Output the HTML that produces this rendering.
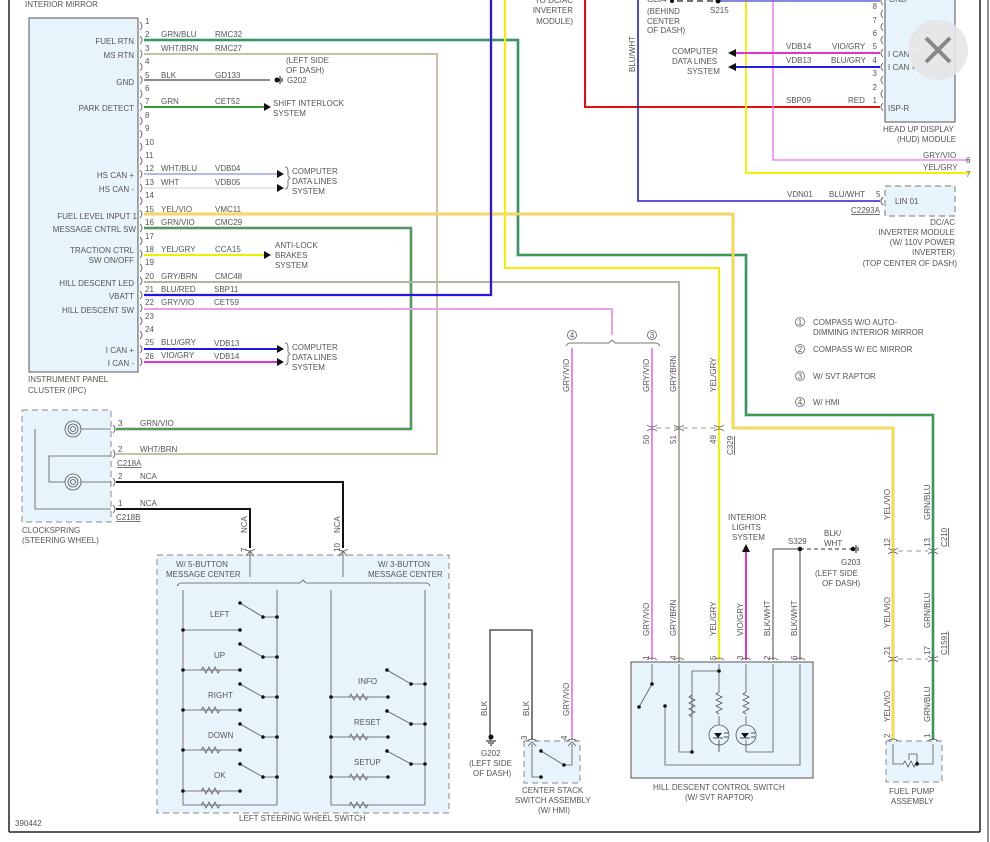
<!DOCTYPE html>
<html><head><meta charset="utf-8"><style>
html,body{margin:0;padding:0;background:#fff;}
svg{display:block;}
text{font-family:"Liberation Sans",sans-serif;font-size:8px;fill:#555;}
</style></head><body>
<svg width="990" height="842" viewBox="0 0 990 842" xmlns="http://www.w3.org/2000/svg">
<line x1="9" y1="0" x2="9" y2="832" stroke="#222" stroke-width="1.5"/>
<line x1="9" y1="832" x2="980" y2="832" stroke="#222" stroke-width="1.5"/>
<line x1="980" y1="0" x2="980" y2="832" stroke="#222" stroke-width="1.5"/>
<line x1="988" y1="0" x2="988" y2="842" stroke="#222" stroke-width="1"/>
<text x="25" y="7">INTERIOR MIRROR</text>
<text x="15" y="826">390442</text>

<rect x="29" y="18" width="109" height="354" fill="#e8f4fc" stroke="#555" stroke-width="1"/>
<text x="28" y="382">INSTRUMENT PANEL</text>
<text x="28" y="393">CLUSTER (IPC)</text>
<g text-anchor="end">
<text x="134" y="44">FUEL RTN</text>
<text x="134" y="58">MS RTN</text>
<text x="134" y="85">GND</text>
<text x="134" y="111">PARK DETECT</text>
<text x="134" y="178">HS CAN +</text>
<text x="134" y="192">HS CAN -</text>
<text x="137" y="219">FUEL LEVEL INPUT 1</text>
<text x="136" y="232">MESSAGE CNTRL SW</text>
<text x="134" y="253">TRACTION CTRL</text>
<text x="134" y="263">SW ON/OFF</text>
<text x="134" y="286">HILL DESCENT LED</text>
<text x="134" y="299">VBATT</text>
<text x="134" y="313">HILL DESCENT SW</text>
<text x="134" y="353">I CAN +</text>
<text x="134" y="366">I CAN -</text>
</g>
<g font-size="7.5">
<text x="145" y="24">1</text><text x="145" y="37">2</text><text x="145" y="51">3</text><text x="145" y="64">4</text><text x="145" y="78">5</text><text x="145" y="91">6</text><text x="145" y="104">7</text><text x="145" y="118">8</text><text x="145" y="131">9</text><text x="145" y="145">10</text><text x="145" y="158">11</text><text x="145" y="171">12</text><text x="145" y="185">13</text><text x="145" y="198">14</text><text x="145" y="212">15</text><text x="145" y="225">16</text><text x="145" y="239">17</text><text x="145" y="252">18</text><text x="145" y="265">19</text><text x="145" y="279">20</text><text x="145" y="292">21</text><text x="145" y="305">22</text><text x="145" y="319">23</text><text x="145" y="332">24</text><text x="145" y="345">25</text><text x="145" y="359">26</text>
</g>
<g fill="none" stroke="#555" stroke-width="0.8">
<path d="M140,22q4,4 0,8M140,36q4,4 0,8M140,50q4,4 0,8M140,63q4,4 0,8M140,76q4,4 0,8M140,90q4,4 0,8M140,103q4,4 0,8M140,117q4,4 0,8M140,130q4,4 0,8M140,143q4,4 0,8M140,157q4,4 0,8M140,170q4,4 0,8M140,184q4,4 0,8M140,197q4,4 0,8M140,210q4,4 0,8M140,224q4,4 0,8M140,237q4,4 0,8M140,250q4,4 0,8M140,264q4,4 0,8M140,277q4,4 0,8M140,291q4,4 0,8M140,304q4,4 0,8M140,317q4,4 0,8M140,331q4,4 0,8M140,345q4,4 0,8M140,358q4,4 0,8"/>
</g>
<text x="161" y="37">GRN/BLU</text><text x="215" y="37">RMC32</text>
<text x="161" y="51">WHT/BRN</text><text x="215" y="51">RMC27</text>
<text x="161" y="78">BLK</text><text x="215" y="78">GD133</text>
<text x="161" y="104">GRN</text><text x="215" y="104">CET52</text>
<text x="161" y="171">WHT/BLU</text><text x="215" y="171">VDB04</text>
<text x="161" y="185">WHT</text><text x="215" y="185">VDB05</text>
<text x="161" y="212">YEL/VIO</text><text x="215" y="212">VMC11</text>
<text x="161" y="225">GRN/VIO</text><text x="215" y="225">CMC29</text>
<text x="161" y="252">YEL/GRY</text><text x="215" y="252">CCA15</text>
<text x="161" y="279">GRY/BRN</text><text x="215" y="279">CMC48</text>
<text x="161" y="292">BLU/RED</text><text x="214" y="292">SBP11</text>
<text x="161" y="305">GRY/VIO</text><text x="214" y="305">CET59</text>
<text x="161" y="345">BLU/GRY</text><text x="214" y="346">VDB13</text>
<text x="161" y="358">VIO/GRY</text><text x="214" y="359">VDB14</text>

<text x="286" y="63">(LEFT SIDE</text><text x="286" y="73">OF DASH)</text><text x="287" y="83">G202</text>
<text x="273" y="106">SHIFT INTERLOCK</text><text x="273" y="116">SYSTEM</text>
<text x="292" y="174">COMPUTER</text><text x="292" y="184">DATA LINES</text><text x="292" y="194">SYSTEM</text>
<text x="275" y="248">ANTI-LOCK</text><text x="275" y="258">BRAKES</text><text x="275" y="268">SYSTEM</text>
<text x="292" y="350">COMPUTER</text><text x="292" y="360">DATA LINES</text><text x="292" y="370">SYSTEM</text>
<path d="M285,167q3,0 3,4v5l2,2l-2,2v5q0,4-3,4M285,343q3,0 3,4v5l2,2l-2,2v5q0,4-3,4" fill="none" stroke="#555" stroke-width="0.8"/>

<line x1="144" y1="80" x2="270" y2="80" stroke="#666" stroke-width="1.5"/>
<circle cx="277" cy="80" r="2.5" fill="#111"/><path d="M280,76v8M282,78v4" stroke="#111"/>
<line x1="144" y1="107" x2="264" y2="107" stroke="#30a030" stroke-width="2"/><path d="M264,103l7,4l-7,4z" fill="#111"/>
<line x1="144" y1="174" x2="277" y2="174" stroke="#b8b8ee" stroke-width="2"/><path d="M277,170l7,4l-7,4z" fill="#111"/>
<line x1="144" y1="188" x2="277" y2="188" stroke="#ddd" stroke-width="1.5"/><path d="M277,184l7,4l-7,4z" fill="#111"/>
<line x1="144" y1="255" x2="264" y2="255" stroke="#ee0" stroke-width="2"/><path d="M264,251l7,4l-7,4z" fill="#111"/>
<line x1="144" y1="349" x2="277" y2="349" stroke="#1b1bdd" stroke-width="2"/><path d="M277,345l7,4l-7,4z" fill="#111"/>
<line x1="144" y1="362" x2="277" y2="362" stroke="#e030d8" stroke-width="2"/><path d="M277,358l7,4l-7,4z" fill="#111"/>

<g fill="none" stroke-linejoin="miter">
<path d="M144,40H518V255H746V415H933V740" stroke="#7090e0" stroke-width="2.8"/>
<path d="M144,40H518V255H746V415H933V740" stroke="#30a030" stroke-width="1.8"/>
<path d="M144,54H437V454H116" stroke="#c9c0a8" stroke-width="2"/>
<path d="M144,214H733V428H893V740" stroke="#f0a0e8" stroke-width="2.8"/>
<path d="M144,214H733V428H893V740" stroke="#f4f000" stroke-width="1.8"/>
<path d="M144,228H411V429H116" stroke="#b080d0" stroke-width="2.8"/>
<path d="M144,228H411V429H116" stroke="#38a838" stroke-width="1.8"/>
<path d="M144,282H679V740" stroke="#b8b0a0" stroke-width="2"/>
<path d="M144,295H491V0" stroke="#f06060" stroke-width="2.6"/>
<path d="M144,295H491V0" stroke="#1818e8" stroke-width="1.9"/>
<path d="M144,309H612V335" stroke="#e8a0e8" stroke-width="2"/>
<path d="M572,348V740M652,348V660" stroke="#ee88ee" stroke-width="2"/>
<path d="M505,0V268H719V660" stroke="#f4f000" stroke-width="2"/>
<path d="M585,0V107H880" stroke="#e01010" stroke-width="2"/>
<path d="M638,0V201H880" stroke="#2020d0" stroke-width="1.6"/>
<path d="M746,0V173H970" stroke="#f4f000" stroke-width="2"/>
<path d="M773,0V160H970" stroke="#ee88ee" stroke-width="1.6"/>
<path d="M718,1H880" stroke="#6060d0" stroke-width="1.5"/>
<path d="M677,1H718" stroke="#222" stroke-width="1.2" stroke-dasharray="6,4"/>
<path d="M736,53H880" stroke="#e030d8" stroke-width="2"/>
<path d="M736,67H880" stroke="#2020e0" stroke-width="2"/>
<path d="M116,482H343V548M116,509H250V548" stroke="#111" stroke-width="2"/>
</g>
<path d="M736,49l-8,4l8,4zM736,63l-8,4l8,4z" fill="#111"/>
<circle cx="672" cy="1" r="2" fill="#111"/><circle cx="718" cy="1" r="2.5" fill="#111"/>

<g text-anchor="end"><text x="573" y="3">TO DC/AC</text><text x="573" y="13">INVERTER</text><text x="573" y="24">MODULE)</text></g>
<text x="647" y="2">G204</text>
<text x="647" y="14">(BEHIND</text><text x="647" y="24">CENTER</text><text x="647" y="33">OF DASH)</text>
<text x="710" y="13">S215</text>
<text transform="translate(635,72) rotate(-90)">BLU/WHT</text>
<text x="672" y="54">COMPUTER</text><text x="672" y="64">DATA LINES</text><text x="687" y="74">SYSTEM</text>

<rect x="885" y="-5" width="70" height="127" fill="#e8f4fc" stroke="#555"/>
<text x="889" y="2">GND</text><text x="888" y="57">I CAN -</text><text x="888" y="70">I CAN +</text><text x="888" y="111">ISP-R</text>
<g text-anchor="end" font-size="7.5"><text x="877" y="9">8</text><text x="877" y="23">7</text><text x="877" y="36">6</text><text x="877" y="49">5</text><text x="877" y="63">4</text><text x="877" y="76">3</text><text x="877" y="90">2</text><text x="877" y="103">1</text></g>
<path d="M883,-3q-4,4 0,8M883,10q-4,4 0,8M883,23q-4,4 0,8M883,36q-4,4 0,8M883,49q-4,4 0,8M883,63q-4,4 0,8M883,76q-4,4 0,8M883,90q-4,4 0,8M883,103q-4,4 0,8" fill="none" stroke="#555" stroke-width="0.8"/>
<text x="786" y="49">VDB14</text><text x="832" y="49">VIO/GRY</text>
<text x="786" y="63">VDB13</text><text x="831" y="63">BLU/GRY</text>
<text x="786" y="103">SBP09</text><text x="848" y="103">RED</text>
<text x="883" y="132">HEAD UP DISPLAY</text><text x="897" y="142">(HUD) MODULE</text>
<text x="923" y="158">GRY/VIO</text><text x="966" y="163">6</text>
<text x="923" y="170">YEL/GRY</text><text x="966" y="177">7</text>
<circle cx="938" cy="50" r="30" fill="#e6e6e6" opacity="0.9"/>
<path d="M926,38l24,24M950,38l-24,24" stroke="#888" stroke-width="4"/>

<rect x="885" y="186" width="70" height="30" fill="#e8f4fc" stroke="#777" stroke-dasharray="6,4"/>
<text x="895" y="204">LIN 01</text>
<text x="787" y="197">VDN01</text><text x="829" y="197">BLU/WHT</text><text x="876" y="197">5</text>
<path d="M883,197q-4,4 0,8" fill="none" stroke="#555"/>
<text x="851" y="213" text-decoration="underline">C2293A</text>
<g text-anchor="end"><text x="955" y="225">DC/AC</text><text x="955" y="235">INVERTER MODULE</text><text x="955" y="245">(W/ 110V POWER</text><text x="955" y="255">INVERTER)</text><text x="957" y="266">(TOP CENTER OF DASH)</text></g>

<g fill="none" stroke="#666" stroke-width="0.8"><circle cx="800" cy="322" r="4.5"/><circle cx="800" cy="349" r="4.5"/><circle cx="800" cy="376" r="4.5"/><circle cx="800" cy="402" r="4.5"/></g>
<g font-size="6.5" text-anchor="middle"><text x="800" y="325">1</text><text x="800" y="352">2</text><text x="800" y="379">3</text><text x="800" y="405">4</text></g>
<text x="813" y="325">COMPASS W/O AUTO-</text><text x="813" y="335">DIMMING INTERIOR MIRROR</text>
<text x="813" y="352">COMPASS W/ EC MIRROR</text>
<text x="813" y="379">W/ SVT RAPTOR</text>
<text x="813" y="405">W/ HMI</text>

<path d="M566,346q2,-3 4,-3H609l3,-3l3,3H656q2,0 4,3" fill="none" stroke="#777"/>
<g fill="none" stroke="#666" stroke-width="0.8"><circle cx="572" cy="335" r="4.5"/><circle cx="652" cy="335" r="4.5"/></g>
<g font-size="6.5" text-anchor="middle"><text x="572" y="338">4</text><text x="652" y="338">3</text></g>
<g>
<text transform="translate(569,392) rotate(-90)">GRY/VIO</text>
<text transform="translate(649,392) rotate(-90)">GRY/VIO</text>
<text transform="translate(676,392) rotate(-90)">GRY/BRN</text>
<text transform="translate(716,392) rotate(-90)">YEL/GRY</text>
</g>
<path d="M656,428H716" stroke="#999" stroke-dasharray="5,4"/>
<g fill="none" stroke="#555" stroke-width="0.8"><path d="M647,425q5,4 10,0M647,431q5,-4 10,0M674,425q5,4 10,0M674,431q5,-4 10,0M714,425q5,4 10,0M714,431q5,-4 10,0"/></g>
<text transform="translate(649,444) rotate(-90)">50</text>
<text transform="translate(676,444) rotate(-90)">51</text>
<text transform="translate(716,444) rotate(-90)">49</text>
<text transform="translate(733,455) rotate(-90)" text-decoration="underline">C329</text>

<rect x="22" y="410" width="89" height="112" fill="#e8f4fc" stroke="#888" stroke-dasharray="6,4"/>
<g fill="none" stroke="#555" stroke-width="0.8">
<circle cx="73" cy="429" r="8"/><circle cx="73" cy="429" r="5"/><circle cx="73" cy="429" r="2.5"/>
<circle cx="73" cy="482" r="8"/><circle cx="73" cy="482" r="5"/><circle cx="73" cy="482" r="2.5"/>
<path d="M81,429H111M35,429V509H111M65,482H49V456H111M81,482H111"/>
<path d="M113,425q4,4 0,8M113,450q4,4 0,8M113,478q4,4 0,8M113,505q4,4 0,8"/>
</g>
<text x="118" y="426">3</text><text x="140" y="426">GRN/VIO</text>
<text x="118" y="452">2</text><text x="140" y="452">WHT/BRN</text>
<text x="117" y="466" text-decoration="underline">C218A</text>
<text x="118" y="479">2</text><text x="140" y="479">NCA</text>
<text x="118" y="506">1</text><text x="140" y="506">NCA</text>
<text x="116" y="520" text-decoration="underline">C218B</text>
<text x="22" y="533">CLOCKSPRING</text><text x="22" y="543">(STEERING WHEEL)</text>
<text transform="translate(247,533) rotate(-90)">NCA</text>
<text transform="translate(340,533) rotate(-90)">NCA</text>
<text transform="translate(247,552) rotate(-90)" font-size="7">7</text>
<text transform="translate(340,552) rotate(-90)" font-size="7">10</text>

<rect x="157" y="555" width="292" height="258" fill="#e8f4fc" stroke="#888" stroke-dasharray="6,4"/>
<g fill="none" stroke="#555" stroke-width="0.8">
<path d="M245,549q5,4 10,0M338,549q5,4 10,0M250,551V577M343,551V577M246,556l4,-5l4,5M339,556l4,-5l4,5"/>
<path d="M177,586q2,-3 4,-3H300l3,-3l3,3H426q3,0 4,3"/>
<path d="M183,590V805H250M277,590V805M331,590V805H388M425,590V805"/>
<path d="M240,603L263,617H277M183,630H240M240,644L263,657H277M183,670H240M240,684L263,697H277M183,710H240M240,724L263,737H277M183,750H240M240,764L263,777H277M183,791H240M250,805H277"/>
<path d="M387,670L411,684H425M331,697H388M387,711L411,724H425M331,737H388M387,751L411,764H425M331,777H388M388,805H425"/>
<path d="M201,670l2,-3l3,6l3,-6l3,6l3,-6l3,6l2,-3M201,710l2,-3l3,6l3,-6l3,6l3,-6l3,6l2,-3M201,750l2,-3l3,6l3,-6l3,6l3,-6l3,6l2,-3M201,791l2,-3l3,6l3,-6l3,6l3,-6l3,6l2,-3M201,805l2,-3l3,6l3,-6l3,6l3,-6l3,6l2,-3"/>
<path d="M349,697l2,-3l3,6l3,-6l3,6l3,-6l3,6l2,-3M349,737l2,-3l3,6l3,-6l3,6l3,-6l3,6l2,-3M349,777l2,-3l3,6l3,-6l3,6l3,-6l3,6l2,-3M349,805l2,-3l3,6l3,-6l3,6l3,-6l3,6l2,-3"/>
</g>
<g fill="#111">
<circle cx="240" cy="603" r="1.8"/><circle cx="263" cy="617" r="1.8"/><circle cx="277" cy="617" r="1.8"/><circle cx="183" cy="630" r="1.8"/><circle cx="240" cy="630" r="1.8"/>
<circle cx="240" cy="644" r="1.8"/><circle cx="263" cy="657" r="1.8"/><circle cx="277" cy="657" r="1.8"/><circle cx="183" cy="670" r="1.8"/><circle cx="240" cy="670" r="1.8"/>
<circle cx="240" cy="684" r="1.8"/><circle cx="263" cy="697" r="1.8"/><circle cx="277" cy="697" r="1.8"/><circle cx="183" cy="710" r="1.8"/><circle cx="240" cy="710" r="1.8"/>
<circle cx="240" cy="724" r="1.8"/><circle cx="263" cy="737" r="1.8"/><circle cx="277" cy="737" r="1.8"/><circle cx="183" cy="750" r="1.8"/><circle cx="240" cy="750" r="1.8"/>
<circle cx="240" cy="764" r="1.8"/><circle cx="263" cy="777" r="1.8"/><circle cx="277" cy="777" r="1.8"/><circle cx="183" cy="791" r="1.8"/><circle cx="240" cy="791" r="1.8"/>
<circle cx="387" cy="670" r="1.8"/><circle cx="411" cy="684" r="1.8"/><circle cx="425" cy="684" r="1.8"/><circle cx="331" cy="697" r="1.8"/><circle cx="388" cy="697" r="1.8"/>
<circle cx="387" cy="711" r="1.8"/><circle cx="411" cy="724" r="1.8"/><circle cx="425" cy="724" r="1.8"/><circle cx="331" cy="737" r="1.8"/><circle cx="388" cy="737" r="1.8"/>
<circle cx="387" cy="751" r="1.8"/><circle cx="411" cy="764" r="1.8"/><circle cx="425" cy="764" r="1.8"/><circle cx="331" cy="777" r="1.8"/><circle cx="388" cy="777" r="1.8"/>
</g>
<text x="176" y="567">W/ 5-BUTTON</text><text x="166" y="577">MESSAGE CENTER</text>
<text x="378" y="567">W/ 3-BUTTON</text><text x="368" y="577">MESSAGE CENTER</text>
<text x="210" y="617">LEFT</text><text x="214" y="658">UP</text><text x="208" y="698">RIGHT</text><text x="208" y="738">DOWN</text><text x="214" y="778">OK</text>
<text x="358" y="684">INFO</text><text x="354" y="725">RESET</text><text x="354" y="765">SETUP</text>
<text x="239" y="821">LEFT STEERING WHEEL SWITCH</text>

<path d="M490,740V630H532V740" fill="none" stroke="#555" stroke-width="1.5"/>
<circle cx="491" cy="737" r="2.5" fill="#111"/><path d="M486,741h10M488,743h6M490,745h2" stroke="#111"/>
<text transform="translate(487,716) rotate(-90)">BLK</text>
<text transform="translate(529,716) rotate(-90)">BLK</text>
<text transform="translate(569,716) rotate(-90)">GRY/VIO</text>
<text x="481" y="756">G202</text><text x="469" y="766">(LEFT SIDE</text><text x="473" y="776">OF DASH)</text>
<rect x="524" y="741" width="56" height="42" fill="#e8f4fc" stroke="#888" stroke-dasharray="6,4"/>
<g fill="none" stroke="#555" stroke-width="0.8">
<path d="M527,741q5,-4 10,0M567,741q5,-4 10,0M532,744V777H541M541,751L564,765H572V744M528,746l4,-4l4,4M568,746l4,-4l4,4"/>
</g>
<circle cx="541" cy="751" r="1.8" fill="#111"/><circle cx="541" cy="777" r="1.8" fill="#111"/><circle cx="564" cy="765" r="1.8" fill="#111"/>
<text transform="translate(527,740) rotate(-90)" font-size="7">3</text>
<text transform="translate(567,740) rotate(-90)" font-size="7">4</text>
<text x="522" y="793">CENTER STACK</text><text x="515" y="803">SWITCH ASSEMBLY</text><text x="538" y="813">(W/ HMI)</text>

<path d="M746,552V660" stroke="#e030d8" stroke-width="2"/>
<path d="M742,552l4,-8l4,8z" fill="#111"/>
<text x="728" y="520">INTERIOR</text><text x="732" y="530">LIGHTS</text><text x="732" y="540">SYSTEM</text>
<path d="M773,660V549H800V660" fill="none" stroke="#444" stroke-width="1"/>
<path d="M800,549H852" stroke="#333" stroke-dasharray="4,3"/>
<circle cx="800" cy="549" r="2.3" fill="#111"/><circle cx="853" cy="549" r="2.3" fill="#111"/><path d="M856,545v8M858,547v4" stroke="#111"/>
<text x="788" y="544">S329</text><text x="824" y="536">BLK/</text><text x="824" y="546">WHT</text>
<text x="841" y="565">G203</text><text x="815" y="576">(LEFT SIDE</text><text x="822" y="586">OF DASH)</text>
<g>
<text transform="translate(649,636) rotate(-90)">GRY/VIO</text>
<text transform="translate(676,636) rotate(-90)">GRY/BRN</text>
<text transform="translate(716,636) rotate(-90)">YEL/GRY</text>
<text transform="translate(743,636) rotate(-90)">VIO/GRY</text>
<text transform="translate(770,636) rotate(-90)">BLK/WHT</text>
<text transform="translate(797,636) rotate(-90)">BLK/WHT</text>
</g>
<g font-size="7"><text transform="translate(649,660) rotate(-90)">1</text><text transform="translate(676,660) rotate(-90)">4</text><text transform="translate(716,660) rotate(-90)">5</text><text transform="translate(743,660) rotate(-90)">3</text><text transform="translate(770,660) rotate(-90)">2</text><text transform="translate(797,660) rotate(-90)">6</text></g>
<rect x="631" y="662" width="182" height="116" fill="#e8f4fc" stroke="#555"/>
<g fill="none" stroke="#555" stroke-width="0.8">
<path d="M647,660q5,-4 10,0M674,660q5,-4 10,0M714,660q5,-4 10,0M741,660q5,-4 10,0M768,660q5,-4 10,0M795,660q5,-4 10,0"/>
<path d="M652,664V684L639,707M665,706V765H800V664M679,664V752H692V671H719V664M719,671V692M719,716V725M746,664V692M746,716V725M719,752V740M746,752H773V664"/>
<path d="M692,695l-3,2l6,3l-6,3l6,3l-6,3l6,3l-6,3l3,2M719,692l-3,2l6,3l-6,3l6,3l-6,3l6,3l-6,3l3,2M746,692l-3,2l6,3l-6,3l6,3l-6,3l6,3l-6,3l3,2"/>
<circle cx="719" cy="735" r="10"/><circle cx="746" cy="735" r="10"/>
<path d="M719,740V752M746,740V752"/>
</g>
<path d="M714,733h8l-4,5zM741,733h8l-4,5z" fill="#111"/>
<path d="M713,738h10M740,738h10M724,733h4M724,737h4M751,733h4M751,737h4" stroke="#111" stroke-width="0.8"/>
<g fill="#111"><circle cx="652" cy="684" r="1.8"/><circle cx="639" cy="707" r="1.8"/><circle cx="665" cy="706" r="1.8"/><circle cx="719" cy="671" r="1.8"/><circle cx="692" cy="752" r="1.8"/></g>
<text x="653" y="790">HILL DESCENT CONTROL SWITCH</text><text x="685" y="800">(W/ SVT RAPTOR)</text>

<text transform="translate(890,520) rotate(-90)">YEL/VIO</text>
<text transform="translate(930,520) rotate(-90)">GRN/BLU</text>
<path d="M898,551H928" stroke="#999" stroke-dasharray="5,4"/>
<g fill="none" stroke="#555" stroke-width="0.8"><path d="M888,548q5,4 10,0M888,554q5,-4 10,0M928,548q5,4 10,0M928,554q5,-4 10,0M888,656q5,4 10,0M888,662q5,-4 10,0M928,656q5,4 10,0M928,662q5,-4 10,0"/></g>
<text transform="translate(890,547) rotate(-90)" font-size="7">12</text>
<text transform="translate(930,547) rotate(-90)" font-size="7">13</text>
<text transform="translate(947,547) rotate(-90)" text-decoration="underline">C210</text>
<path d="M898,659H928" stroke="#999" stroke-dasharray="5,4"/>
<text transform="translate(890,628) rotate(-90)">YEL/VIO</text>
<text transform="translate(930,628) rotate(-90)">GRN/BLU</text>
<text transform="translate(890,655) rotate(-90)" font-size="7">21</text>
<text transform="translate(930,655) rotate(-90)" font-size="7">17</text>
<text transform="translate(947,655) rotate(-90)" text-decoration="underline">C1591</text>
<text transform="translate(890,722) rotate(-90)">YEL/VIO</text>
<text transform="translate(930,722) rotate(-90)">GRN/BLU</text>
<text transform="translate(890,738) rotate(-90)" font-size="7">2</text>
<text transform="translate(930,738) rotate(-90)" font-size="7">1</text>
<rect x="886" y="741" width="56" height="41" fill="#e8f4fc" stroke="#888" stroke-dasharray="6,4"/>
<g fill="none" stroke="#555" stroke-width="0.8">
<path d="M888,741q5,-4 10,0M928,741q5,-4 10,0M893,744V764H903l2,-3l3,6l3,-6l3,6l3,-6l2,3H933V744M909,760V754H917V764"/>
</g>
<circle cx="917" cy="764" r="1.8" fill="#111"/>
<text x="889" y="794">FUEL PUMP</text><text x="891" y="804">ASSEMBLY</text>
</svg>
</body></html>
